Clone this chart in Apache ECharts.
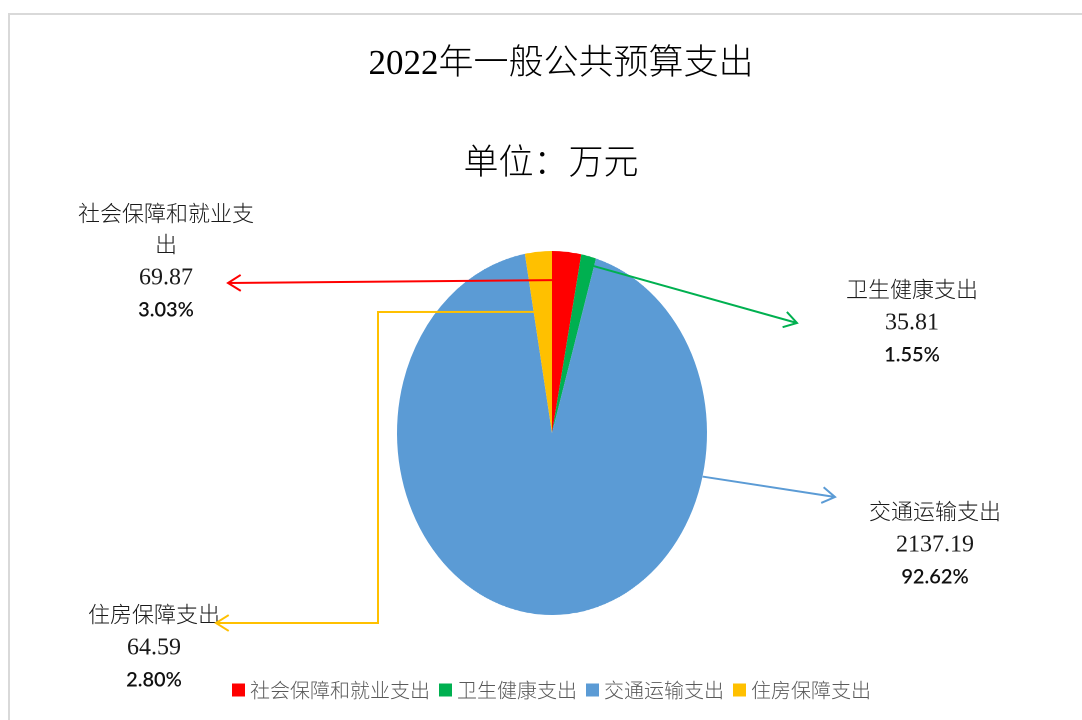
<!DOCTYPE html>
<html lang="zh">
<head>
    <meta charset="UTF-8">
    <title>2022年一般公共预算支出</title>
    <style>
        html,body{
            margin:0;
            padding:0;
            background:#fff;
        }
        .box{
            position:absolute;
            left:0;
            top:0;
            width:1082px;
            height:720px;
        }
        /* pie is drawn round, then stretched into the ellipse of the original */
        #piebox{
            transform:scaleY(1.1742);
            transform-origin:552px 433px;
        }
    </style>
</head>
<body>
  <div class="box" id="piebox"></div>
  <div class="box" id="overbox"></div>
</body>
<script src="https://cdn.jsdelivr.net/npm/echarts@6/dist/echarts.min.js"></script>
<script>
    var titleText = '2022年一般公共预算支出',
        unitText = '单位：万元';
    var categories = ['社会保障和就业支出', '卫生健康支出', '交通运输支出', '住房保障支出'];
    var values = [69.87, 35.81, 2137.19, 64.59];
    var colors = ['#FF0000', '#00B050', '#5B9BD5', '#FFC000'];

    // pie geometry (ellipse after css stretch)
    var cx = 552, cy = 433, rx = 155, ry = 182;

    // label placement: text centre x, value line y, where the leader starts
    // (share along the slice, share of radius) and the points it runs through
    var labelLayout = [
        {x: 166, vy: 278, at: 0.0,  rad: 0.84,  path: [[228, 283]]},
        {x: 912, vy: 323, at: 0.75, rad: 0.955, path: [[797, 323]]},
        {x: 935, vy: 545, at: 0.262, rad: 1.0,  path: [[835, 497]]},
        {x: 154, vy: 648, at: 0.05, rad: 0.675, path: [[378, 312], [378, 623], [216, 623]]}
    ];

    var serifFont = '"Liberation Serif", "Noto Sans CJK SC", serif',
        cjkFont = '"Noto Sans CJK SC", sans-serif';

    var total = values.reduce(function (a, b) { return a + b; }, 0);

    var pieData = categories.map(function (name, i) {
        return {name: name, value: values[i], itemStyle: {color: colors[i]}};
    });

    function pointOn(theta, f) {
        var t = theta * Math.PI / 180;
        return [cx + rx * f * Math.sin(t), cy - ry * f * Math.cos(t)];
    }

    function arrowHead(p0, p1) {
        var dx = p1[0] - p0[0], dy = p1[1] - p0[1];
        var len = Math.sqrt(dx * dx + dy * dy);
        var ux = dx / len, uy = dy / len;
        var l = 15, a = 32 * Math.PI / 180;
        var c = Math.cos(a), s = Math.sin(a);
        var w1 = [p1[0] - l * (ux * c - uy * s), p1[1] - l * (uy * c + ux * s)];
        var w2 = [p1[0] - l * (ux * c + uy * s), p1[1] - l * (uy * c - ux * s)];
        return [w1, p1, w2];
    }

    var graphics = [
        {
            type: 'rect',
            shape: {x: 9, y: 14, width: 1100, height: 730},
            style: {fill: 'none', stroke: '#d9d9d9', lineWidth: 2},
            silent: true
        },
        {
            type: 'text', x: 561, y: 65,
            style: {text: titleText, font: '300 35px ' + serifFont, fill: '#000',
                    textAlign: 'center', textVerticalAlign: 'middle'}
        },
        {
            type: 'text', x: 551, y: 165,
            style: {text: unitText, font: '300 35px ' + serifFont, fill: '#000',
                    textAlign: 'center', textVerticalAlign: 'middle'}
        }
    ];

    var acc = 0;
    categories.forEach(function (name, i) {
        var lay = labelLayout[i];
        var startDeg = acc / total * 360;
        var spanDeg = values[i] / total * 360;
        acc += values[i];
        var start = pointOn(startDeg + spanDeg * lay.at, lay.rad);
        var pts = [start].concat(lay.path);
        var n = pts.length;

        graphics.push({
            type: 'polyline', silent: true, z: 10,
            shape: {points: pts},
            style: {stroke: colors[i], lineWidth: 2, fill: 'none'}
        });
        graphics.push({
            type: 'polyline', silent: true, z: 10,
            shape: {points: arrowHead(pts[n - 2], pts[n - 1])},
            style: {stroke: colors[i], lineWidth: 2, fill: 'none'}
        });

        graphics.push({
            type: 'text', x: lay.x, y: lay.vy - 16,
            style: {text: name, font: '300 22px ' + serifFont, fill: '#1a1a1a',
                    width: 185, overflow: 'break', lineHeight: 31,
                    textAlign: 'center', textVerticalAlign: 'bottom'}
        });
        graphics.push({
            type: 'text', x: lay.x, y: lay.vy,
            style: {text: values[i].toFixed(2), font: '24px ' + serifFont, fill: '#1a1a1a',
                    textAlign: 'center', textVerticalAlign: 'middle'}
        });
        graphics.push({
            type: 'text', x: lay.x, y: lay.vy + 32,
            style: {text: (values[i] / total * 100).toFixed(2) + '%',
                    font: '600 20px Lato, "Liberation Sans", sans-serif', fill: '#111',
                    textAlign: 'center', textVerticalAlign: 'middle'}
        });
    });

    var optionPie = {
        animation: false,
        series: [
            {
                type: 'pie',
                center: [cx, cy],
                radius: rx,
                startAngle: 90,
                clockwise: true,
                silent: true,
                label: {show: false},
                labelLine: {show: false},
                itemStyle: {borderWidth: 0},
                data: pieData
            }
        ]
    };

    var optionOver = {
        animation: false,
        backgroundColor: 'transparent',
        legend: {
            bottom: 15,
            left: 227,
            icon: 'rect',
            itemWidth: 13,
            itemHeight: 13,
            itemGap: 9,
            selectedMode: false,
            textStyle: {
                color: '#595959',
                fontSize: 20,
                fontWeight: 300,
                fontFamily: cjkFont
            },
            data: categories
        },
        graphic: graphics,
        series: [
            {
                type: 'pie',
                center: [cx, cy],
                radius: [0, 0],
                silent: true,
                label: {show: false},
                labelLine: {show: false},
                data: pieData
            }
        ]
    };

    function initEcharts(elem, options) {
        var chart = echarts.init(elem, null, {devicePixelRatio: 2});
        chart.setOption(options, true);
        return chart;
    }

    initEcharts(document.getElementById('piebox'), optionPie);
    initEcharts(document.getElementById('overbox'), optionOver);
</script>
</html>
